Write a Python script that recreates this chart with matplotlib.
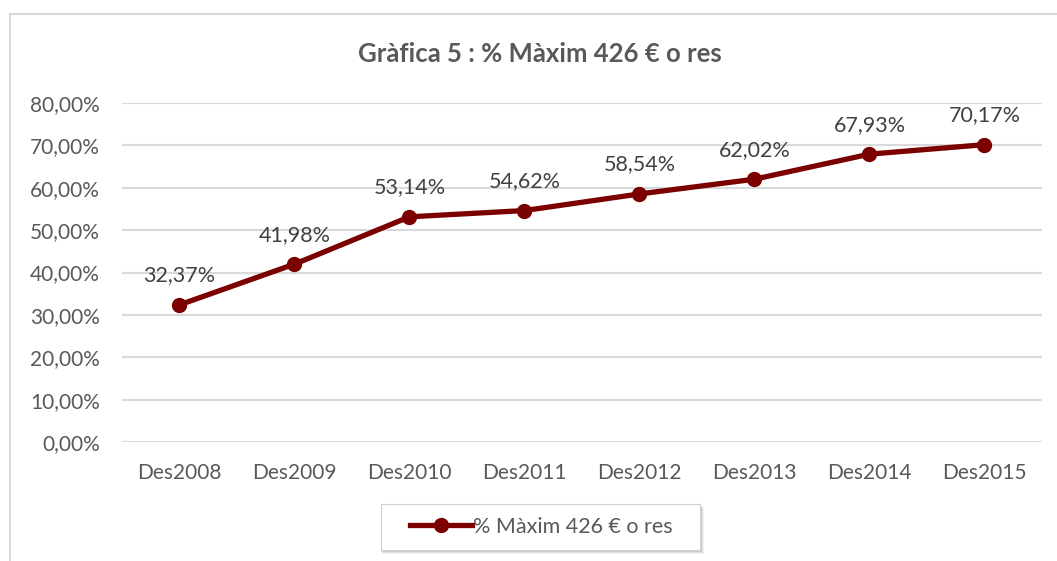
import matplotlib.pyplot as plt
from matplotlib.patches import Rectangle

# chart data
categories = ['Des2008', 'Des2009', 'Des2010', 'Des2011',
              'Des2012', 'Des2013', 'Des2014', 'Des2015']
values = [32.37, 41.98, 53.14, 54.62, 58.54, 62.02, 67.93, 70.17]
yticks = [0, 10, 20, 30, 40, 50, 60, 70, 80]
title = 'Gràfica 5 : % Màxim 426 € o res'
series_name = '% Màxim 426 € o res'

plt.rcParams['font.family'] = ['Lato', 'DejaVu Sans']

line_color = '#7b0000'
text_color = '#595959'

fig = plt.figure(figsize=(10.57, 5.61), dpi=100)
ax = fig.add_axes([0.1154, 0.2121, 0.8704, 0.6043])

x = list(range(len(categories)))
line, = ax.plot(x, values, color=line_color, linewidth=3.8, marker='o',
                markersize=10, label=series_name, zorder=3)

for xi, v in zip(x, values):
    lbl = '{:.2f}%'.format(v).replace('.', ',')
    ax.annotate(lbl, (xi, v), xytext=(0, 14), textcoords='offset points',
                ha='center', va='bottom', fontsize=15.5, color='#404040')

ax.set_xlim(-0.5, len(categories) - 0.5)
ax.set_ylim(0, 80)
ax.set_yticks(yticks)
ax.set_yticklabels(['{:.2f}%'.format(t).replace('.', ',') for t in yticks])
ax.set_xticks(x)
ax.set_xticklabels(categories)
ax.tick_params(axis='both', length=0, labelsize=15, colors=text_color)
ax.tick_params(axis='y', pad=16)
ax.tick_params(axis='x', pad=15)
ax.grid(axis='y', color='#d9d9d9', linewidth=1.5)
ax.set_axisbelow(True)
for s in ax.spines.values():
    s.set_visible(False)

fig.text(0.511, 0.903, title, ha='center', va='center', fontsize=18.5,
         fontweight='bold', color=text_color)

# outer chart border (only top and left fall inside the picture)
fig.add_artist(plt.Line2D([10 / 1057, 1], [1 - 14 / 561, 1 - 14 / 561],
                          color='#d9d9d9', linewidth=1.5))
fig.add_artist(plt.Line2D([10 / 1057, 10 / 1057], [0, 1 - 14 / 561],
                          color='#d9d9d9', linewidth=1.5))

# legend box with soft shadow
lx0, ly0, lw, lh = 381 / 1057, 1 - 550 / 561, 319 / 1057, 46 / 561
for i, a in enumerate([0.10, 0.14, 0.20]):
    d = (3 - i) / 1057
    fig.add_artist(Rectangle((lx0 + 0.001, ly0 - d * 1.9 - 0.002), lw + d, lh,
                             transform=fig.transFigure, facecolor='#808080',
                             edgecolor='none', alpha=a))
fig.add_artist(Rectangle((lx0, ly0), lw, lh, transform=fig.transFigure,
                         facecolor='white', edgecolor='#d0d0d0', linewidth=0.8))
leg = fig.legend(handles=[line], loc='center', bbox_to_anchor=(0.512, 1 - 527 / 561),
                 frameon=False, fontsize=15.5, handlelength=2.9, handletextpad=0.05,
                 labelcolor=text_color)

fig.savefig('out.png', dpi=100)
